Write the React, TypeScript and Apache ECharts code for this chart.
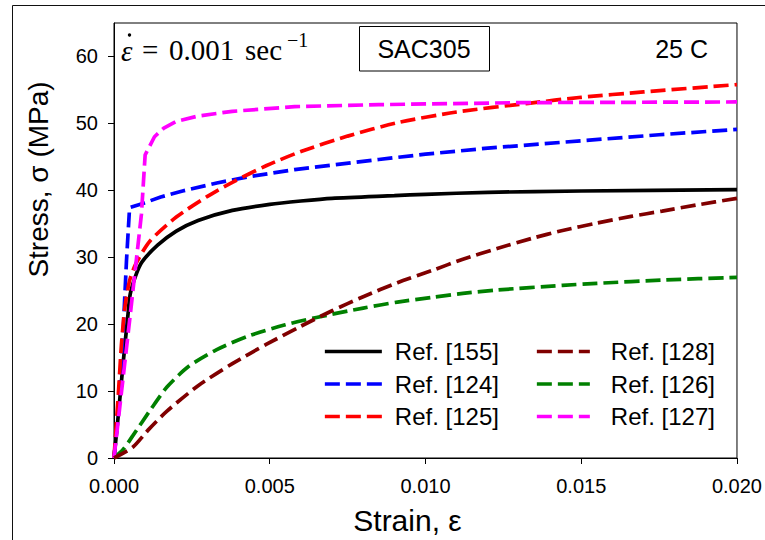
import React, { useEffect, useRef } from "react";
import * as echarts from "echarts";

// Strain (mm/mm) vs stress (MPa)
const ref155: [number, number][] = [
  [0, 0], [0.00015, 7], [0.0003, 14.5], [0.00045, 21.5], [0.00052, 24.5], [0.0007, 27.3],
  [0.0009, 29.3], [0.0014, 31.8], [0.002, 33.9], [0.0027, 35.5], [0.0038, 37], [0.005, 37.9],
  [0.006, 38.4], [0.007, 38.8], [0.009, 39.2], [0.01, 39.4], [0.012, 39.7], [0.015, 39.9], [0.02, 40.1],
];
const ref124: [number, number][] = [
  [0, 0], [0.0001, 5], [0.0002, 12], [0.0003, 19.5], [0.0004, 29.4], [0.0005, 37.4],
  [0.0009, 38], [0.0015, 39], [0.0022, 39.9], [0.0033, 41.1], [0.0043, 42], [0.0058, 43.1],
  [0.0085, 44.6], [0.01, 45.4], [0.012, 46.3], [0.015, 47.4], [0.0175, 48.3], [0.02, 49.1],
];
const ref125: [number, number][] = [
  [0, 0], [0.00014, 9.6], [0.00024, 17], [0.00035, 22.5], [0.0005, 26.5], [0.0007, 29],
  [0.00115, 32.4], [0.002, 36], [0.003, 39.1], [0.0038, 41.2], [0.0049, 43.7], [0.006, 45.8],
  [0.0075, 48.1], [0.0091, 50.1], [0.011, 51.7], [0.0133, 53], [0.015, 53.9], [0.017, 54.7], [0.02, 55.8],
];
const ref126: [number, number][] = [
  [0, 0], [0.0003, 1.3], [0.0006, 3.3], [0.0012, 7.4], [0.0017, 10.6], [0.0024, 13.7],
  [0.0033, 16.2], [0.0043, 18.2], [0.0055, 19.9], [0.0065, 21], [0.008, 22.4], [0.0091, 23.3],
  [0.0102, 24], [0.0112, 24.6], [0.0123, 25.1], [0.0144, 25.8], [0.0155, 26.1], [0.0177, 26.6], [0.02, 27],
];
const ref127: [number, number][] = [
  [0, 0], [0.0005, 20.5], [0.00088, 36.4], [0.001, 45.3], [0.0013, 48], [0.0016, 49.3], [0.002, 50.3],
  [0.0027, 51.1], [0.0038, 51.8], [0.0058, 52.5], [0.0085, 52.8], [0.013, 53.1], [0.02, 53.2],
];
const ref128: [number, number][] = [
  [0, 0], [0.0006, 1.6], [0.0011, 4.2], [0.0017, 7.0], [0.0027, 10.8], [0.0038, 14.1], [0.0049, 17],
  [0.006, 19.7], [0.007, 22], [0.008, 24.1], [0.0091, 26.2], [0.0102, 28], [0.0112, 29.7],
  [0.0123, 31.3], [0.0134, 32.8], [0.0144, 34], [0.0155, 35.1], [0.0166, 36.1], [0.0176, 36.9],
  [0.0187, 37.8], [0.02, 38.8],
];

const yTicks = [0, 10, 20, 30, 40, 50, 60];
const xTicks = [0, 0.005, 0.01, 0.015, 0.02];

const SANS = '"Liberation Sans", Arial, sans-serif';
const SERIF = '"Liberation Serif", "Times New Roman", serif';

export default function App() {
  const ref = useRef<HTMLDivElement>(null);
  useEffect(() => {
    if (!ref.current) return;
    const chart = echarts.init(ref.current, undefined, { renderer: "svg" });
    const dash = [15, 6];
    const mk = (name: string, data: [number, number][], color: string, dashed: boolean, smooth: number | boolean) => ({
      name,
      type: "line",
      data,
      smooth,
      symbol: "none",
      showSymbol: false,
      legendIcon: "none",
      lineStyle: { color, width: 3.7, type: dashed ? dash : "solid" },
      itemStyle: { color },
      emphasis: { disabled: true },
      silent: true,
    });
    const legendText = { fontSize: 24, lineHeight: 24, color: "#000", fontFamily: SANS };
    const legendCommon = {
      orient: "vertical",
      top: 339.5,
      padding: 0,
      itemHeight: 14,
      itemGap: 8.5,
      itemStyle: { opacity: 0, borderWidth: 0 },
      lineStyle: { width: 3.7 },
      selectedMode: false,
    };
    const dashItem = (name: string) => ({ name, lineStyle: { width: 3.7, type: dash } });
    chart.setOption({
      animation: false,
      backgroundColor: "#fff",
      grid: { left: 114, top: 23, width: 628, height: 438, show: true, borderColor: "#000", borderWidth: 1, containLabel: false },
      xAxis: {
        type: "value",
        min: 0,
        max: 0.02,
        interval: 0.005,
        name: "Strain, ε",
        nameLocation: "middle",
        nameGap: 47,
        nameTextStyle: { fontSize: 30, color: "#000", fontFamily: SANS, padding: [0, 36, 0, 0] },
        axisLine: { show: true, lineStyle: { color: "#000", width: 1 } },
        axisTick: { show: true, inside: false, length: 6, lineStyle: { color: "#000" }, customValues: xTicks },
        axisLabel: {
          fontSize: 20, color: "#000", fontFamily: SANS, margin: 18,
          customValues: xTicks,
          formatter: (v: number) => v.toFixed(3),
        },
        splitLine: { show: false },
      },
      yAxis: {
        type: "value",
        min: 0,
        max: 65,
        interval: 10,
        name: "Stress, σ (MPa)",
        nameLocation: "middle",
        nameGap: 62,
        nameTextStyle: { fontSize: 28, color: "#000", fontFamily: SANS, padding: [0, 0, 0, 122] },
        axisLine: { show: true, lineStyle: { color: "#000", width: 1 } },
        axisTick: { show: true, inside: false, length: 6, lineStyle: { color: "#000" }, customValues: yTicks },
        axisLabel: { fontSize: 20, color: "#000", fontFamily: SANS, margin: 16, customValues: yTicks },
        splitLine: { show: false },
      },
      legend: [
        {
          ...legendCommon,
          data: [{ name: "Ref. [155]", lineStyle: { width: 3.7, type: "solid" } }, dashItem("Ref. [124]"), dashItem("Ref. [125]")],
          left: 323,
          itemWidth: 57,
          textStyle: { ...legendText, padding: [0, 0, 0, 8] },
        },
        {
          ...legendCommon,
          data: [dashItem("Ref. [128]"), dashItem("Ref. [126]"), dashItem("Ref. [127]")],
          left: 535,
          itemWidth: 53,
          textStyle: { ...legendText, padding: [0, 0, 0, 16] },
        },
      ],
      series: [
        mk("Ref. [155]", ref155, "#000000", false, 0.25),
        mk("Ref. [124]", ref124, "#0000ff", true, false),
        mk("Ref. [125]", ref125, "#ff0000", true, 0.25),
        mk("Ref. [126]", ref126, "#008000", true, 0.25),
        mk("Ref. [127]", ref127, "#ff00ff", true, false),
        mk("Ref. [128]", ref128, "#800000", true, 0.25),
      ],
      graphic: [
        { type: "rect", silent: true, z: -10, shape: { x: 12.5, y: 5.5, width: 800, height: 600 }, style: { fill: "none", stroke: "#111", lineWidth: 1 } },
        { type: "text", silent: true, x: 121, y: 51, style: { text: "ε", font: `italic 29px ${SERIF}`, fill: "#000", verticalAlign: "middle" } },
        { type: "circle", silent: true, shape: { cx: 129.5, cy: 35, r: 1.7 }, style: { fill: "#000" } },
        { type: "text", silent: true, x: 142, y: 50, style: { text: "=", font: `29px ${SERIF}`, fill: "#000", verticalAlign: "middle" } },
        { type: "text", silent: true, x: 169, y: 50, style: { text: "0.001", font: `29px ${SERIF}`, fill: "#000", verticalAlign: "middle" } },
        { type: "text", silent: true, x: 245, y: 50, style: { text: "sec", font: `29px ${SERIF}`, fill: "#000", verticalAlign: "middle" } },
        { type: "text", silent: true, x: 287, y: 40, style: { text: "−1", font: `20px ${SERIF}`, fill: "#000", verticalAlign: "middle" } },
        { type: "rect", silent: true, shape: { x: 359.5, y: 26.5, width: 130, height: 44.5 }, style: { fill: "#fff", stroke: "#000", lineWidth: 1 } },
        { type: "text", silent: true, x: 424, y: 49, style: { text: "SAC305", font: `25px ${SANS}`, fill: "#000", align: "center", verticalAlign: "middle" } },
        { type: "text", silent: true, x: 708, y: 49, style: { text: "25 C", font: `25px ${SANS}`, fill: "#000", align: "right", verticalAlign: "middle" } },
      ],
    });
    return () => chart.dispose();
  }, []);
  return <div ref={ref} style={{ position: "fixed", left: 0, top: 0, width: 765, height: 540 }} />;
}
